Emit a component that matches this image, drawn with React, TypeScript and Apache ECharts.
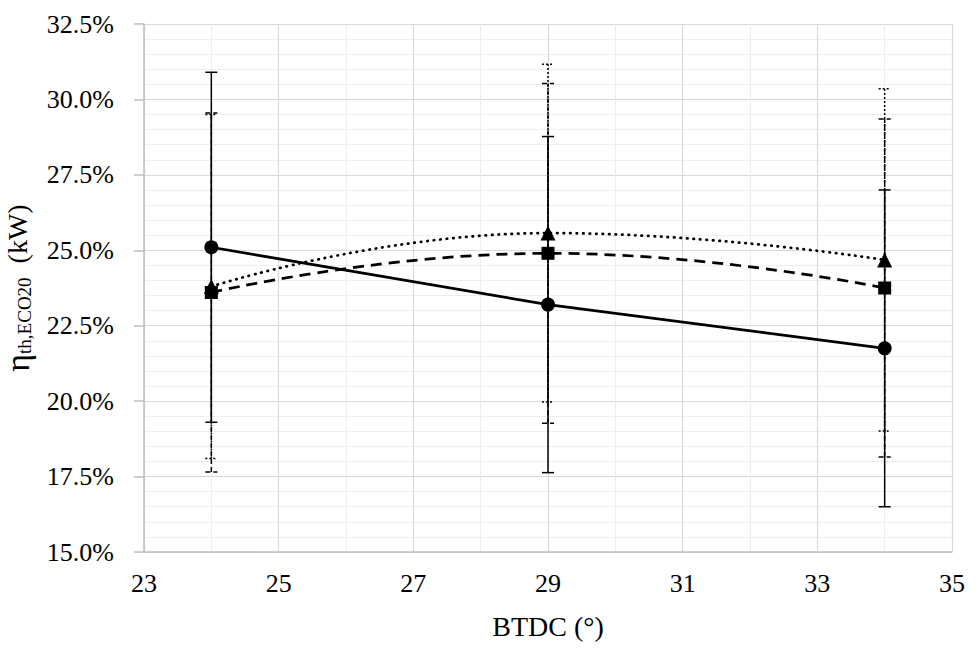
import React, { useEffect, useRef } from "react";
import * as echarts from "echarts";

const xVals = [24, 29, 34];
const xTicks = [23, 25, 27, 29, 31, 33, 35];
const circleVals = [0.251, 0.232, 0.2175];
const circleErr = [0.058, 0.0557, 0.0525];
const squareVals = [0.236, 0.249, 0.2375];
const squareErr = [0.0595, 0.0563, 0.056];
const triangleVals = [0.238, 0.2557, 0.2468];
const triangleErr = [0.057, 0.056, 0.0567];

const FONT = "Liberation Serif";

function errorSeries(vals: number[], errs: number[], dash: any, z: number) {
  return {
    type: "custom",
    z,
    silent: true,
    data: xVals.map((x, i) => [x, vals[i] - errs[i], vals[i] + errs[i]]),
    encode: { x: 0, y: [1, 2] },
    renderItem: (params: any, api: any) => {
      const x = api.value(0);
      const lo = api.coord([x, api.value(1)]);
      const hi = api.coord([x, api.value(2)]);
      const w = 6;
      const style = { stroke: "#000", lineWidth: 1.5, lineDash: dash };
      return {
        type: "group",
        children: [
          { type: "line", shape: { x1: lo[0], y1: lo[1], x2: hi[0], y2: hi[1] }, style },
          { type: "line", shape: { x1: lo[0] - w, y1: lo[1], x2: lo[0] + w, y2: lo[1] }, style },
          { type: "line", shape: { x1: hi[0] - w, y1: hi[1], x2: hi[0] + w, y2: hi[1] }, style },
        ],
      };
    },
  };
}

function lineSeries(vals: number[], symbol: string, size: number, type: any, smooth: any, cap: string) {
  return {
    type: "line",
    z: 5,
    data: xVals.map((x, i) => [x, vals[i]]),
    symbol,
    symbolSize: size,
    showSymbol: true,
    smooth,
    lineStyle: { color: "#000", width: 2.75, type, cap },
    itemStyle: { color: "#000" },
  };
}

export default function App() {
  const ref = useRef<HTMLDivElement>(null);
  useEffect(() => {
    const chart = echarts.init(ref.current!, null, { renderer: "svg" });
    chart.setOption({
      animation: false,
      backgroundColor: "#fff",
      grid: { left: 144, right: 25, top: 24, bottom: 96, containLabel: false, outerBoundsMode: "none" },
      xAxis: {
        type: "value",
        min: 23,
        max: 35,
        interval: 2,
        name: "BTDC (°)",
        nameLocation: "middle",
        nameGap: 60,
        nameTextStyle: { fontFamily: FONT, fontSize: 28, color: "#000" },
        axisLine: { show: true, lineStyle: { color: "#bfbfbf", width: 1.5 } },
        axisTick: { show: false },
        axisLabel: {
          fontFamily: FONT,
          fontSize: 26,
          color: "#000",
          margin: 18,
          customValues: xTicks,
        },
        splitLine: { show: true, lineStyle: { color: "#d9d9d9", width: 1.2 } },
        minorTick: { show: false, splitNumber: 2 },
        minorSplitLine: { show: true, lineStyle: { color: "#eeeeee", width: 1 } },
      },
      yAxis: {
        type: "value",
        min: 0.15,
        max: 0.325,
        interval: 0.025,
        name: "{eta|η}{sub|th,ECO20}{n|  (kW)}",
        nameLocation: "middle",
        nameRotate: 90,
        nameGap: 110,
        nameTextStyle: {
          fontFamily: FONT,
          color: "#000",
          rich: {
            eta: { fontFamily: FONT, fontSize: 34, color: "#000" },
            sub: { fontFamily: FONT, fontSize: 19, color: "#000", verticalAlign: "bottom", padding: [14, 0, 0, 0] },
            n: { fontFamily: FONT, fontSize: 28, color: "#000" },
          },
        },
        axisLine: { show: true, lineStyle: { color: "#bfbfbf", width: 1.5 } },
        axisTick: { show: true, length: 10, lineStyle: { color: "#bfbfbf", width: 1.5 } },
        axisLabel: {
          fontFamily: FONT,
          fontSize: 26,
          color: "#000",
          margin: 30,
          formatter: (v: number) => (v * 100).toFixed(1) + "%",
        },
        splitLine: { show: true, lineStyle: { color: "#d9d9d9", width: 1.2 } },
        minorTick: { show: false, splitNumber: 5 },
        minorSplitLine: { show: true, lineStyle: { color: "#eeeeee", width: 1 } },
      },
      series: [
        errorSeries(circleVals, circleErr, null, 2),
        errorSeries(squareVals, squareErr, [5, 3], 2),
        errorSeries(triangleVals, triangleErr, [2, 2], 2),
        lineSeries(circleVals, "circle", 14, "solid", false, "butt"),
        lineSeries(squareVals, "rect", 13, [11, 7], 0.5, "butt"),
        lineSeries(triangleVals, "triangle", 15, [0.5, 6], 0.5, "round"),
      ],
    });
    return () => chart.dispose();
  }, []);
  return (
    <div
      ref={ref}
      style={{ position: "fixed", left: 0, top: 0, width: 977, height: 648, background: "#fff" }}
    />
  );
}
